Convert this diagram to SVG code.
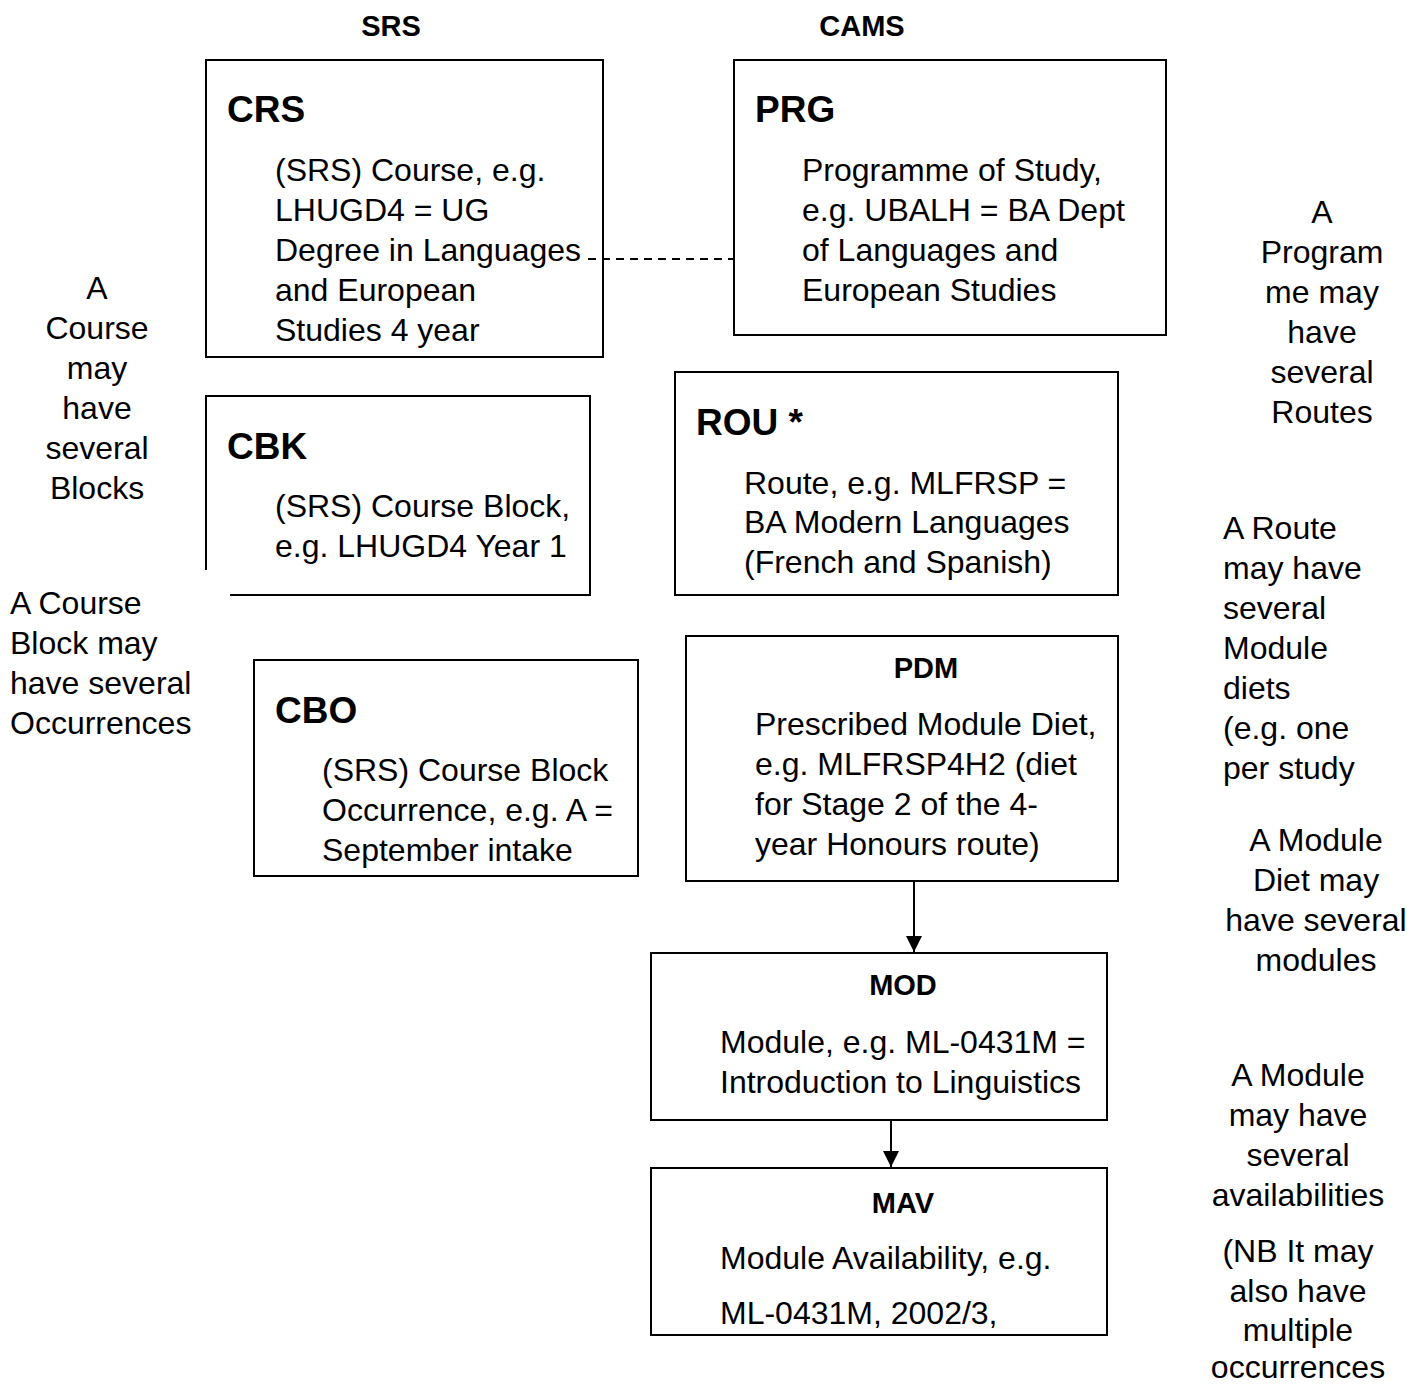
<svg xmlns="http://www.w3.org/2000/svg" width="1423" height="1385" viewBox="0 0 1423 1385">
<defs>
<style>
text{font-family:"Liberation Sans",Arial,sans-serif;fill:#000}
.h{font-weight:bold;font-size:29px}
.t{font-weight:bold;font-size:37px}
.b{font-size:32px}
.m{text-anchor:middle}
.box{fill:#fff;stroke:#000;stroke-width:2}
.ln{fill:none;stroke:#000;stroke-width:2}
</style>
<marker id="ah" viewBox="0 0 10 10" refX="10" refY="5" markerWidth="16" markerHeight="16" markerUnits="userSpaceOnUse" orient="auto"><path d="M0,0 L10,5 L0,10 z" fill="#000"/></marker>
</defs>
<rect width="1423" height="1385" fill="#fff"/>
<g id="headers">
<text class="h m" x="391" y="36">SRS</text>
<text class="h m" x="862" y="36">CAMS</text>
</g>
<g id="CRS">
<rect class="box" x="206" y="60" width="397" height="297"/>
<text class="t" x="227" y="122">CRS</text>
<text class="b" x="275" y="181">(SRS) Course, e.g.</text>
<text class="b" x="275" y="221">LHUGD4 = UG</text>
<text class="b" x="275" y="261">Degree in Languages</text>
<text class="b" x="275" y="301">and European</text>
<text class="b" x="275" y="341">Studies 4 year</text>
</g>
<g id="PRG">
<rect class="box" x="734" y="60" width="432" height="275"/>
<text class="t" x="755" y="122">PRG</text>
<text class="b" x="802" y="181">Programme of Study,</text>
<text class="b" x="802" y="221">e.g. UBALH = BA Dept</text>
<text class="b" x="802" y="261">of Languages and</text>
<text class="b" x="802" y="301">European Studies</text>
</g>
<g id="CBK">
<path class="ln" d="M230,595 H590 V396 H206 V570"/>
<text class="t" x="227" y="459">CBK</text>
<text class="b" x="275" y="517">(SRS) Course Block,</text>
<text class="b" x="275" y="557">e.g. LHUGD4 Year 1</text>
</g>
<g id="CBO">
<rect class="box" x="254" y="660" width="384" height="216"/>
<text class="t" x="275" y="723">CBO</text>
<text class="b" x="322" y="781">(SRS) Course Block</text>
<text class="b" x="322" y="821">Occurrence, e.g. A =</text>
<text class="b" x="322" y="861">September intake</text>
</g>
<g id="ROU">
<rect class="box" x="675" y="372" width="443" height="223"/>
<text class="t" x="696" y="435">ROU *</text>
<text class="b" x="744" y="494">Route, e.g. MLFRSP =</text>
<text class="b" x="744" y="533">BA Modern Languages</text>
<text class="b" x="744" y="573">(French and Spanish)</text>
</g>
<g id="PDM">
<rect class="box" x="686" y="636" width="432" height="245"/>
<text class="h m" x="926" y="678">PDM</text>
<text class="b" x="755" y="735">Prescribed Module Diet,</text>
<text class="b" x="755" y="775">e.g. MLFRSP4H2 (diet</text>
<text class="b" x="755" y="815">for Stage 2 of the 4-</text>
<text class="b" x="755" y="855">year Honours route)</text>
</g>
<g id="MOD">
<rect class="box" x="651" y="953" width="456" height="167"/>
<text class="h m" x="903" y="995">MOD</text>
<text class="b" x="720" y="1053">Module, e.g. ML-0431M =</text>
<text class="b" x="720" y="1093">Introduction to Linguistics</text>
</g>
<g id="MAV">
<rect class="box" x="651" y="1168" width="456" height="167"/>
<text class="h m" x="903" y="1213">MAV</text>
<text class="b" x="720" y="1269">Module Availability, e.g.</text>
<text class="b" x="720" y="1324">ML-0431M, 2002/3,</text>
</g>
<g id="connectors">
<line class="ln" x1="588" y1="259" x2="734" y2="259" stroke-dasharray="8,6"/>
<line class="ln" x1="914" y1="881" x2="914" y2="952" marker-end="url(#ah)"/>
<line class="ln" x1="891" y1="1120" x2="891" y2="1167" marker-end="url(#ah)"/>
</g>
<g id="notes">
<g class="b m">
<text x="97" y="299">A</text>
<text x="97" y="339">Course</text>
<text x="97" y="379">may</text>
<text x="97" y="419">have</text>
<text x="97" y="459">several</text>
<text x="97" y="499">Blocks</text>
</g>
<g class="b">
<text x="10" y="614">A Course</text>
<text x="10" y="654">Block may</text>
<text x="10" y="694">have several</text>
<text x="10" y="734">Occurrences</text>
</g>
<g class="b m">
<text x="1322" y="223">A</text>
<text x="1322" y="263">Program</text>
<text x="1322" y="303">me may</text>
<text x="1322" y="343">have</text>
<text x="1322" y="383">several</text>
<text x="1322" y="423">Routes</text>
</g>
<g class="b">
<text x="1223" y="539">A Route</text>
<text x="1223" y="579">may have</text>
<text x="1223" y="619">several</text>
<text x="1223" y="659">Module</text>
<text x="1223" y="699">diets</text>
<text x="1223" y="739">(e.g. one</text>
<text x="1223" y="779">per study</text>
</g>
<g class="b m">
<text x="1316" y="851">A Module</text>
<text x="1316" y="891">Diet may</text>
<text x="1316" y="931">have several</text>
<text x="1316" y="971">modules</text>
</g>
<g class="b m">
<text x="1298" y="1086">A Module</text>
<text x="1298" y="1126">may have</text>
<text x="1298" y="1166">several</text>
<text x="1298" y="1206">availabilities</text>
<text x="1298" y="1262">(NB It may</text>
<text x="1298" y="1302">also have</text>
<text x="1298" y="1341">multiple</text>
<text x="1298" y="1378">occurrences</text>
</g>
</g>
</svg>
